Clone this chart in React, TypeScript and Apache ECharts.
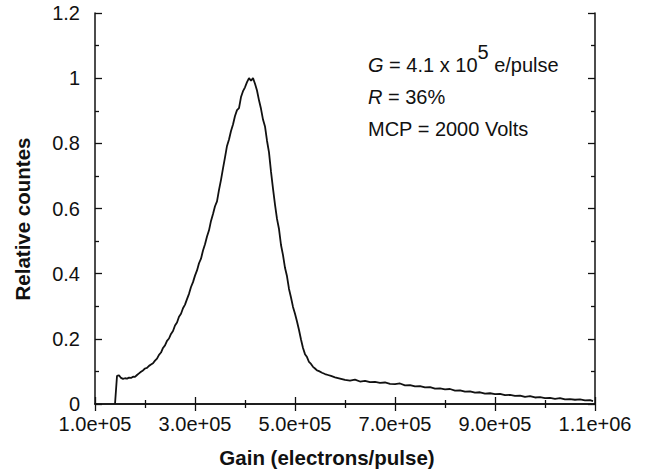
import React, { useEffect, useRef } from "react";
import * as echarts from "echarts";

// Gain (electrons/pulse)
const gain = [
  140000, 144000, 148000, 152000, 156000, 160000, 164000, 168000, 172000, 176000,
  180000, 184000, 188000, 192000, 196000, 200000, 204000, 208000, 212000, 216000,
  220000, 224000, 228000, 232000, 236000, 240000, 244000, 248000, 252000, 256000,
  260000, 264000, 268000, 272000, 276000, 280000, 284000, 288000, 292000, 296000,
  300000, 304000, 308000, 312000, 316000, 320000, 324000, 328000, 332000, 336000,
  340000, 344000, 348000, 352000, 356000, 360000, 364000, 368000, 372000, 376000,
  380000, 384000, 388000, 392000, 396000, 400000, 404000, 408000, 412000, 416000,
  420000, 424000, 428000, 432000, 436000, 440000, 444000, 448000, 452000, 456000,
  460000, 464000, 468000, 472000, 476000, 480000, 484000, 488000, 492000, 496000,
  500000, 504000, 508000, 512000, 516000, 520000, 524000, 528000, 532000, 536000,
  540000, 544000, 548000,
  554000, 560000, 566000, 572000, 580000, 590000, 600000, 610000, 620000, 630000,
  640000, 650000, 660000, 670000, 680000, 690000, 700000, 710000, 720000, 730000,
  740000, 750000, 760000, 770000, 780000, 790000, 800000, 810000, 820000, 830000,
  840000, 850000, 860000, 870000, 880000, 890000, 900000, 910000, 920000, 930000,
  940000, 950000, 960000, 970000, 980000, 990000, 1000000, 1010000, 1020000, 1030000,
  1040000, 1050000, 1060000, 1070000, 1080000, 1090000, 1096000,
];

// Relative counts
const counts = [
  0, 0.086, 0.088, 0.080, 0.077, 0.079, 0.078, 0.081, 0.080, 0.084,
  0.083, 0.089, 0.094, 0.099, 0.103, 0.109, 0.111, 0.117, 0.121, 0.125,
  0.133, 0.139, 0.151, 0.158, 0.172, 0.180, 0.194, 0.201, 0.215, 0.224,
  0.241, 0.250, 0.268, 0.277, 0.294, 0.305, 0.322, 0.338, 0.359, 0.374,
  0.394, 0.410, 0.432, 0.446, 0.471, 0.490, 0.514, 0.533, 0.562, 0.583,
  0.607, 0.622, 0.657, 0.688, 0.723, 0.757, 0.792, 0.812, 0.838, 0.858,
  0.884, 0.902, 0.908, 0.942, 0.960, 0.972, 0.988, 1.000, 0.992, 1.000,
  0.983, 0.962, 0.932, 0.906, 0.873, 0.852, 0.808, 0.772, 0.713, 0.661,
  0.612, 0.568, 0.537, 0.488, 0.457, 0.418, 0.392, 0.353, 0.327, 0.298,
  0.277, 0.253, 0.227, 0.198, 0.172, 0.153, 0.144, 0.129, 0.123, 0.114,
  0.109, 0.103, 0.101,
  0.096, 0.092, 0.089, 0.086, 0.082, 0.078, 0.074, 0.072, 0.075, 0.069,
  0.071, 0.067, 0.068, 0.065, 0.066, 0.062, 0.061, 0.063, 0.057, 0.058,
  0.054, 0.055, 0.051, 0.052, 0.047, 0.048, 0.045, 0.046, 0.041, 0.042,
  0.038, 0.039, 0.035, 0.036, 0.032, 0.033, 0.030, 0.031, 0.027, 0.028,
  0.025, 0.026, 0.022, 0.024, 0.020, 0.021, 0.018, 0.019, 0.016, 0.018,
  0.014, 0.015, 0.013, 0.014, 0.011, 0.012, 0.009,
];

const xRange = [100000, 1100000];
const xStep = 200000;
const yRange = [0, 1.2];
const yStep = 0.2;

const xTitle = "Gain (electrons/pulse)";
const yTitle = "Relative countes";
const noteLines = [
  "{i|G} = 4.1 x 10{sup|5} e/pulse",
  "{i|R} = 36%",
  "MCP = 2000 Volts",
];

const FONT = '"Liberation Sans", Arial, Helvetica, sans-serif';
const INK = "#111";

function expLabel(v: number): string {
  const [m, e] = v.toExponential(1).split("e");
  const sign = e[0];
  const d = e.slice(1).padStart(2, "0");
  return `${m}e${sign}${d}`;
}

export default function App() {
  const ref = useRef<HTMLDivElement>(null);
  useEffect(() => {
    if (!ref.current) return;
    const chart = echarts.init(ref.current, null, { renderer: "svg" });
    const tickCommon = {
      axisLine: { show: true, lineStyle: { color: INK, width: 1.5 } },
      axisTick: { show: true, inside: true, length: 7, lineStyle: { color: INK, width: 1.3 } },
      minorTick: { show: true, splitNumber: 2, length: 4, lineStyle: { color: INK, width: 1.3 } },
      splitLine: { show: false },
      minorSplitLine: { show: false },
    };
    const rich = {
      i: { fontStyle: "italic", fontSize: 20, fontFamily: FONT, fill: INK, verticalAlign: "middle" },
      sup: { fontSize: 20, fontFamily: FONT, fill: INK, padding: [0, 0, 26, 0], verticalAlign: "middle" },
    };
    chart.setOption({
      animation: false,
      backgroundColor: "#fff",
      grid: { left: 95, right: 50, top: 13, bottom: 66, containLabel: false },
      xAxis: [
        {
          type: "value",
          position: "bottom",
          min: xRange[0],
          max: xRange[1],
          interval: xStep,
          ...tickCommon,
          axisLabel: {
            formatter: expLabel,
            fontSize: 20,
            fontFamily: FONT,
            color: INK,
            margin: 10,
          },
        },
        {
          type: "value",
          position: "top",
          min: xRange[0],
          max: xRange[1],
          interval: xStep,
          ...tickCommon,
          axisLabel: { show: false },
        },
      ],
      yAxis: [
        {
          type: "value",
          position: "left",
          min: yRange[0],
          max: yRange[1],
          interval: yStep,
          ...tickCommon,
          axisLabel: { fontSize: 20, fontFamily: FONT, color: INK, margin: 15 },
        },
        {
          type: "value",
          position: "right",
          min: yRange[0],
          max: yRange[1],
          interval: yStep,
          ...tickCommon,
          axisLabel: { show: false },
        },
      ],
      series: [
        {
          type: "line",
          xAxisIndex: 0,
          yAxisIndex: 0,
          data: gain.map((g, i) => [g, counts[i]]),
          showSymbol: false,
          symbol: "none",
          lineStyle: { color: INK, width: 1.8 },
          silent: true,
        },
      ],
      graphic: [
        {
          type: "text",
          x: 22,
          y: 219,
          rotation: Math.PI / 2,
          style: {
            text: yTitle,
            fontSize: 20.5,
            fontWeight: "bold",
            fontFamily: FONT,
            fill: INK,
            align: "center",
            verticalAlign: "middle",
          },
        },
        {
          type: "text",
          x: 327,
          y: 457,
          style: {
            text: xTitle,
            fontSize: 20.5,
            fontWeight: "bold",
            fontFamily: FONT,
            fill: INK,
            align: "center",
            verticalAlign: "middle",
          },
        },
        ...noteLines.map((t, k) => ({
          type: "text",
          x: 368,
          y: 65 + k * 32,
          style: {
            text: t,
            fontSize: 20,
            fontFamily: FONT,
            fill: INK,
            align: "left",
            verticalAlign: "middle",
            rich,
          },
        })),
      ],
    });
    return () => chart.dispose();
  }, []);
  return (
    <div
      ref={ref}
      style={{ position: "fixed", left: 0, top: 0, width: 645, height: 470, background: "#fff" }}
    />
  );
}
